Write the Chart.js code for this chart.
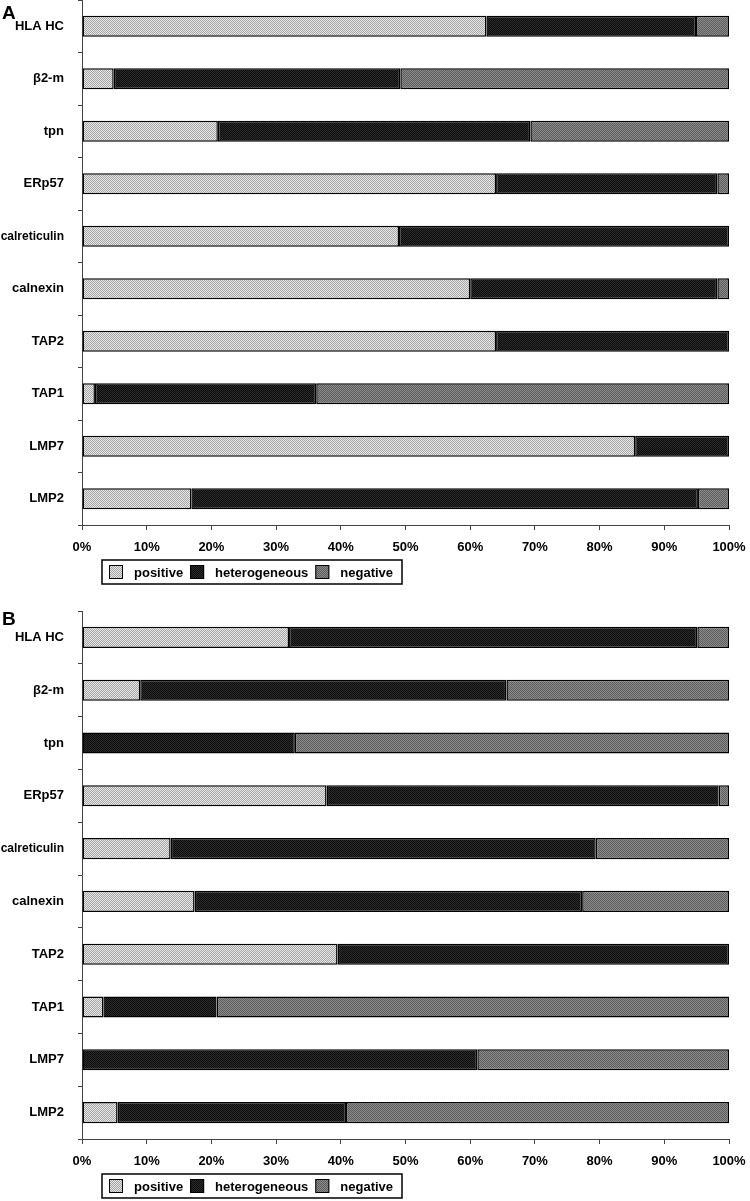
<!DOCTYPE html>
<html>
<head>
<meta charset="utf-8">
<script src="https://cdn.jsdelivr.net/npm/chart.js@4.4.1/dist/chart.umd.min.js"></script>
<style>
  html, body { margin: 0; padding: 0; background: #fff; }
  body { width: 750px; height: 1201px; position: relative; overflow: hidden; font-family: "Liberation Sans", Arial, sans-serif; }
  .panel { position: absolute; left: 0; width: 750px; }
  .tag { position: absolute; left: 2px; font-weight: bold; font-size: 19px; line-height: 1; }
</style>
</head>
<body>
<div class="panel" style="top:0;height:600px"><canvas id="chartA"></canvas></div>
<div class="panel" style="top:611px;height:590px"><canvas id="chartB"></canvas></div>
<div class="tag" style="top:3px">A</div>
<div class="tag" style="top:609px">B</div>
<script>
// Data (percent of cases)
const categories = ['HLA HC', 'β2-m', 'tpn', 'ERp57', 'calreticulin', 'calnexin', 'TAP2', 'TAP1', 'LMP7', 'LMP2'];
const seriesNames = ['positive', 'heterogeneous', 'negative'];

const aPositive      = [62.5,  4.9, 21.0, 64.0, 49.0, 60.0, 64.0,  2.0, 85.5, 16.9];
const aHeterogeneous = [32.4, 44.3, 48.3, 34.2, 51.0, 38.2, 36.0, 34.2, 14.5, 78.3];
const aNegative      = [ 5.1, 50.8, 30.7,  1.8,  0.0,  1.8,  0.0, 63.8,  0.0,  4.8];

const bPositive      = [32.0,  9.0,  0.0, 37.8, 13.7, 17.4, 39.5,  3.3,  0.0,  5.5];
const bHeterogeneous = [63.1, 56.6, 32.9, 60.6, 65.7, 59.9, 60.5, 17.5, 61.1, 35.3];
const bNegative      = [ 4.9, 34.4, 67.1,  1.6, 20.6, 22.7,  0.0, 79.2, 38.9, 59.2];

Chart.defaults.font.family = '"Liberation Sans", Arial, sans-serif';
Chart.defaults.color = '#000';

// dithered fills like the printed original
function dither(c1, c2) {
    const t = document.createElement('canvas');
    t.width = t.height = 2;
    const g = t.getContext('2d');
    g.fillStyle = c1; g.fillRect(0, 0, 2, 2);
    g.fillStyle = c2; g.fillRect(0, 0, 1, 1); g.fillRect(1, 1, 1, 1);
    return g.createPattern(t, 'repeat');
}
const fills = [dither('#e6e6e6', '#a6a6a6'), dither('#0c0c0c', '#2c2c2c'), dither('#5c5c5c', '#8c8c8c')];

// boxed legend under the x axis
const boxLegend = {
    id: 'boxLegend',
    afterDraw(chart, args, opts) {
        const ctx = chart.ctx;
        const top = chart.chartArea.bottom + opts.gap;
        const left = 102, w = 300, h = 24;
        ctx.save();
        ctx.lineWidth = 1.5;
        ctx.strokeStyle = '#000';
        ctx.strokeRect(left, top, w, h);
        ctx.font = 'bold 13px "Liberation Sans", Arial, sans-serif';
        ctx.textBaseline = 'middle';
        let x = left + 7;
        chart.data.datasets.forEach(ds => {
            ctx.fillStyle = ds.backgroundColor;
            ctx.fillRect(x, top + 5, 14, 14);
            ctx.lineWidth = 1;
            ctx.strokeRect(x + 0.5, top + 5.5, 13, 13);
            x += 14 + 11;
            ctx.fillStyle = '#000';
            ctx.fillText(ds.label, x, top + h / 2 + 1);
            x += ctx.measureText(ds.label).width + 7;
        });
        ctx.restore();
    }
};

function makeChart(id, pos, het, neg, xHeight) {
    const tickFont = { size: 13, weight: 'bold' };
    return new Chart(document.getElementById(id), {
        type: 'bar',
        data: {
            labels: categories,
            datasets: [
                { label: seriesNames[0], data: pos, backgroundColor: fills[0] },
                { label: seriesNames[1], data: het, backgroundColor: fills[1] },
                { label: seriesNames[2], data: neg, backgroundColor: fills[2] }
            ]
        },
        options: {
            indexAxis: 'y',
            responsive: true,
            maintainAspectRatio: false,
            animation: false,
            layout: { padding: { top: 0, right: 21, left: 0, bottom: 0 } },
            datasets: {
                bar: { barPercentage: 0.4, categoryPercentage: 1, borderColor: '#000', borderWidth: 1.5, borderSkipped: false }
            },
            plugins: {
                legend: { display: false },
                tooltip: { enabled: false },
                boxLegend: { gap: 35 }
            },
            scales: {
                x: {
                    stacked: true, min: 0, max: 100,
                    ticks: { stepSize: 10, callback: v => v + '%', font: tickFont, padding: 10, maxRotation: 0 },
                    grid: { drawOnChartArea: false, tickLength: 5, color: '#444' },
                    border: { color: '#444', width: 1 },
                    afterFit: s => { s.height = xHeight; s.paddingLeft = 0; s.paddingRight = 0; }
                },
                y: {
                    stacked: true,
                    ticks: {
                        // long label squeezed a little so it stays on the canvas
                        font: c => ({ size: String(categories[c.index] || '').length > 10 ? 12 : 13, weight: 'bold' }),
                        padding: 14
                    },
                    grid: { offset: true, drawOnChartArea: false, tickLength: 4, color: '#444' },
                    border: { color: '#444', width: 1 },
                    afterFit: s => { s.width = 82; s.paddingTop = 0; s.paddingBottom = 0; }
                }
            }
        },
        plugins: [boxLegend]
    });
}

makeChart('chartA', aPositive, aHeterogeneous, aNegative, 75);
makeChart('chartB', bPositive, bHeterogeneous, bNegative, 62);
</script>
</body>
</html>
